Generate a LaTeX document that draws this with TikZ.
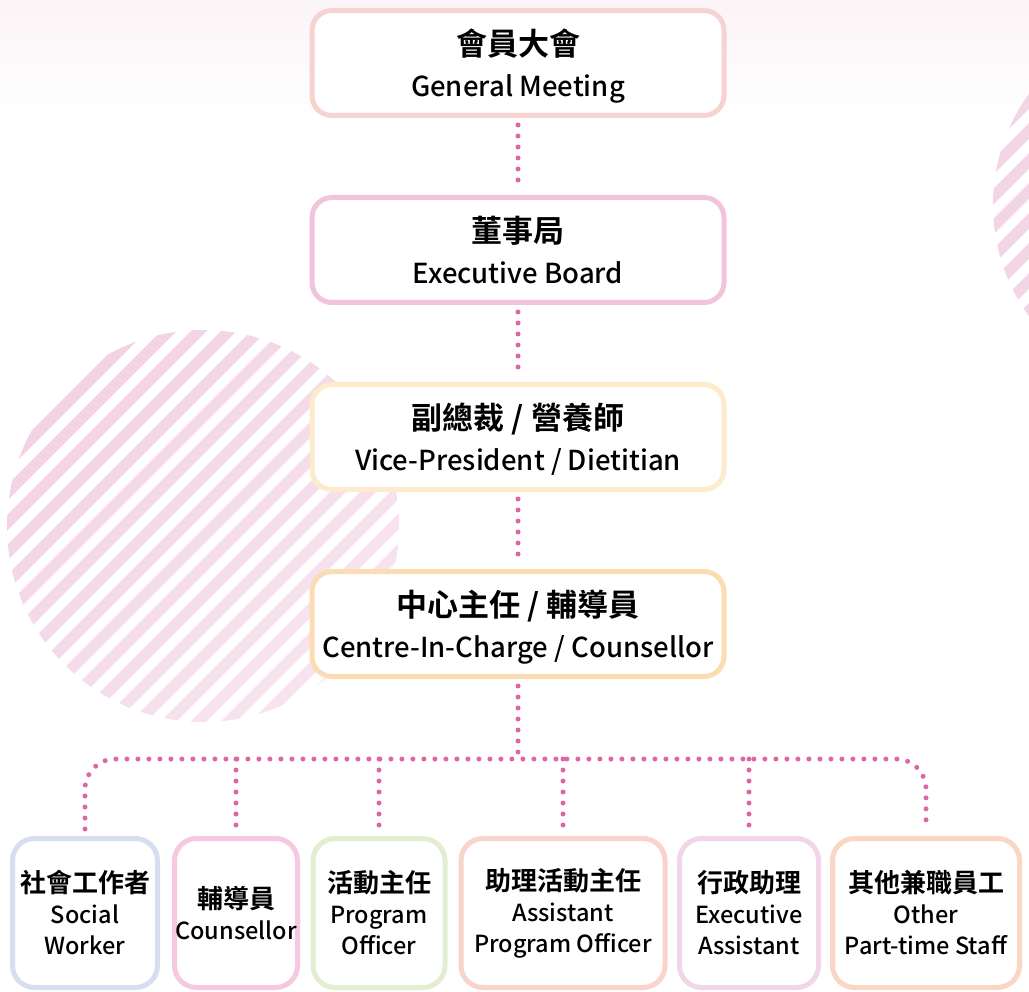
\documentclass[tikz,border=0pt]{standalone}
\usepackage{fontspec}
\setmainfont{Noto Sans CJK TC}[UprightFont=* Medium, BoldFont=* Bold]
\usetikzlibrary{positioning}
\definecolor{linkpink}{RGB}{224,101,166}
\definecolor{stripecol}{RGB}{240,204,224}
\definecolor{topbg}{RGB}{251,244,248}
\definecolor{gmcol}{RGB}{247,211,207}
\definecolor{ebcol}{RGB}{242,196,220}
\definecolor{vpcol}{RGB}{253,235,203}
\definecolor{ciccol}{RGB}{252,220,181}
\definecolor{swcol}{RGB}{214,222,240}
\definecolor{cocol}{RGB}{245,202,224}
\definecolor{pocol}{RGB}{227,237,208}
\definecolor{apocol}{RGB}{248,212,203}
\definecolor{eacol}{RGB}{241,214,231}
\definecolor{otcol}{RGB}{250,214,196}
\newcommand{\zhtop}[1]{{\bfseries\fontsize{31}{40}\selectfont #1}}
\newcommand{\zhsub}[1]{{\bfseries\fontsize{26}{33}\selectfont #1}}
\tikzset{
  box/.style={draw, fill=white, line width=5pt, rounded corners=20pt,
    align=center, inner sep=0pt},
  level/.style={box, minimum width=412pt, minimum height=105pt,
    font=\fontsize{27.5}{41}\selectfont, text depth=1pt},
  staff/.style={box, minimum height=149pt, rounded corners=22pt,
    font=\fontsize{23.5}{31}\selectfont},
  link/.style={draw=linkpink, line width=5pt, line cap=round,
    dash pattern=on 0pt off 11pt, shorten <=7pt, shorten >=7pt}
}

\begin{document}
\begin{tikzpicture}[x=1pt,y=-1pt]
  \useasboundingbox (0,0) rectangle (1029,992);
  \shade[top color=topbg, bottom color=white] (0,0) rectangle (1029,120);
  % striped circles
  \begin{scope}
    \clip (203,526) circle (196pt);
    \foreach \c [evaluate=\c as \p using {int(90-(\c-440)*0.07)}] in {440,470,...,1020}
      \draw[line width=11pt, stripecol!\p!white] (\c,0) -- (\c-1000,1000);
  \end{scope}
  \begin{scope}
    \clip (1183,205) circle (190pt);
    \foreach \c in {1100,1130,...,1420}
      \draw[line width=11pt, stripecol!80!white] (\c,0) -- (\c-1000,1000);
  \end{scope}

  \node[level, draw=gmcol] (gm) at (518,63) {\zhtop{會員大會}\\General Meeting};
  \node[level, draw=ebcol, below=77pt of gm] (eb) {\zhtop{董事局}\\Executive Board};
  \node[level, draw=vpcol, below=77pt of eb] (vp) {\zhtop{副總裁 / 營養師}\\Vice-President / Dietitian};
  \node[level, draw=ciccol, below=77pt of vp] (cic) {\zhtop{中心主任 / 輔導員}\\Centre-In-Charge / Counsellor};

  \node[staff, draw=swcol, minimum width=145pt] (sw) at (85,913) {\zhsub{社會工作者}\\Social\\Worker};
  \node[staff, draw=cocol, minimum width=123pt] (co) at (236,913) {\zhsub{輔導員}\\Counsellor};
  \node[staff, draw=pocol, minimum width=132pt] (po) at (379,913) {\zhsub{活動主任}\\Program\\Officer};
  \node[staff, draw=apocol, minimum width=204pt] (apo) at (563,913) {\zhsub{助理活動主任}\\Assistant\\Program Officer};
  \node[staff, draw=eacol, minimum width=139pt] (ea) at (749,913) {\zhsub{行政助理}\\Executive\\Assistant};
  \node[staff, draw=otcol, minimum width=187pt] (ot) at (926,913) {\zhsub{其他兼職員工}\\Other\\Part-time Staff};

  \coordinate (bus) at (518,759);
  \draw[link] (gm) -- (eb);
  \draw[link] (eb) -- (vp);
  \draw[link] (vp) -- (cic);
  \draw[link, shorten >=0pt] (cic) -- (bus);
  \draw[link, rounded corners=30pt] (sw.north) |- (bus) -| (ot.north);
  \foreach \n in {co,po,apo,ea}
    \draw[link, shorten <=0pt] (bus -| \n.north) -- (\n.north);
\end{tikzpicture}
\end{document}
